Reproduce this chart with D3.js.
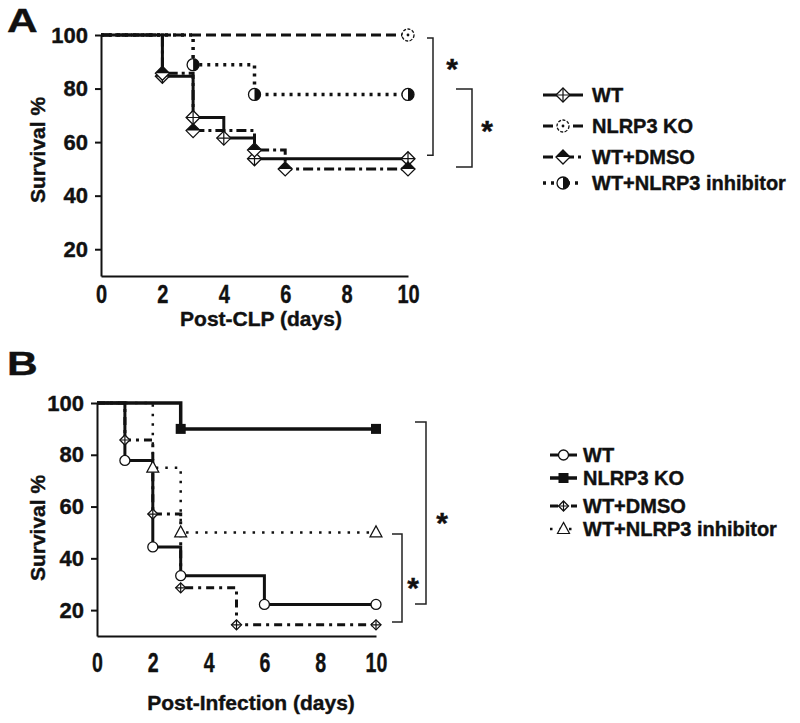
<!DOCTYPE html>
<html>
<head>
<meta charset="utf-8">
<script src="https://cdn.jsdelivr.net/npm/d3@7"></script>
<style>
  body { margin: 0; background: #fff; }
  text { font-family: "Liberation Sans", Arial, sans-serif; font-weight: bold; fill: #111; stroke: #111; stroke-width: 0.4px; }
</style>
</head>
<body>
<svg id="chart" width="800" height="723"></svg>
<script>
// ---- data ----
const groups = ['WT', 'NLRP3 KO', 'WT+DMSO', 'WT+NLRP3 inhibitor'];
const xTicks = [0, 2, 4, 6, 8, 10];
const yTicks = [20, 40, 60, 80, 100];

// Panel A: Post-CLP
const daysA_WT = [0, 2, 3, 4, 5, 10];
const survA_WT = [100, 84.6, 69.2, 61.5, 53.8, 53.8];
const daysA_KO = [0, 10];
const survA_KO = [100, 100];
const daysA_DMSO = [0, 2, 3, 5, 6, 10];
const survA_DMSO = [100, 85.7, 64.3, 57.1, 50, 50];
const daysA_INH = [0, 3, 5, 10];
const survA_INH = [100, 88.9, 77.8, 77.8];

// Panel B: Post-Infection
const daysB_WT = [0, 1, 2, 3, 6, 10];
const survB_WT = [100, 77.8, 44.4, 33.3, 22.2, 22.2];
const daysB_KO = [0, 3, 10];
const survB_KO = [100, 90, 90];
const daysB_DMSO = [0, 1, 2, 3, 5, 10];
const survB_DMSO = [100, 85.7, 57.1, 28.6, 14.3, 14.3];
const daysB_INH = [0, 2, 3, 10];
const survB_INH = [100, 75, 50, 50];

const svg = d3.select('#chart');

function marker(g, type, cx, cy, s) {
  const ink = '#111';
  if (type === 'diamondCross' || type === 'diamondHalf') {
    g.append('path')
      .attr('d', `M${cx},${cy - s}L${cx + s},${cy}L${cx},${cy + s}L${cx - s},${cy}Z`)
      .attr('fill', '#fff').attr('stroke', ink).attr('stroke-width', 1.3);
    if (type === 'diamondCross') {
      g.append('path')
        .attr('d', `M${cx - s},${cy}H${cx + s}M${cx},${cy - s}V${cy + s}`)
        .attr('stroke', ink).attr('stroke-width', 1.2);
    } else {
      g.append('path')
        .attr('d', `M${cx - s},${cy}L${cx},${cy - s}L${cx + s},${cy}Z`)
        .attr('fill', ink);
    }
  } else if (type === 'circleDot') {
    g.append('circle').attr('cx', cx).attr('cy', cy).attr('r', s)
      .attr('fill', '#fff').attr('stroke', ink).attr('stroke-width', 1.3)
      .attr('stroke-dasharray', '3,1.5');
    g.append('circle').attr('cx', cx).attr('cy', cy).attr('r', 1.4).attr('fill', ink);
  } else if (type === 'circleHalf') {
    g.append('circle').attr('cx', cx).attr('cy', cy).attr('r', s)
      .attr('fill', '#fff').attr('stroke', ink).attr('stroke-width', 1.3);
    g.append('path')
      .attr('d', `M${cx},${cy - s}A${s},${s} 0 0 1 ${cx},${cy + s}Z`)
      .attr('fill', ink);
  } else if (type === 'circle') {
    g.append('circle').attr('cx', cx).attr('cy', cy).attr('r', s)
      .attr('fill', '#fff').attr('stroke', ink).attr('stroke-width', 1.3);
  } else if (type === 'square') {
    g.append('rect').attr('x', cx - s).attr('y', cy - s)
      .attr('width', 2 * s).attr('height', 2 * s).attr('fill', ink);
  } else if (type === 'triangle') {
    g.append('path')
      .attr('d', `M${cx},${cy - s * 1.1}L${cx + s},${cy + s * 0.75}L${cx - s},${cy + s * 0.75}Z`)
      .attr('fill', '#fff').attr('stroke', ink).attr('stroke-width', 1.2);
  }
}

function drawPanel(p) {
  const g = svg.append('g');

  const x = d3.scaleLinear().domain([0, 10]).range(p.xRange);
  const y = d3.scaleLinear().domain([10, 100]).range(p.yRange);

  // axes
  const xAxis = g.append('g')
    .attr('transform', 'translate(0,' + p.yRange[0] + ')')
    .call(d3.axisBottom(x).tickValues(xTicks).tickSize(0).tickSizeOuter(0).tickPadding(p.xPad));
  xAxis.selectAll('text')
    .style('font-size', p.xFont + 'px')
    .attr('transform', 'scale(' + p.xScale + ',1)');

  const yAxis = g.append('g')
    .attr('transform', 'translate(' + p.xRange[0] + ',0)')
    .call(d3.axisLeft(y).tickValues(yTicks).tickSize(6).tickSizeOuter(0).tickPadding(7));
  yAxis.selectAll('text').style('font-size', '22px');

  g.selectAll('.domain, .tick line').attr('stroke', '#111').attr('stroke-width', 2);

  // survival curves
  const line = d3.line().curve(d3.curveStepAfter)
    .x(d => x(d[0])).y(d => y(d[1]));

  p.series.forEach(s => {
    const pts = s.days.map((d, i) => [d, s.surv[i]]);
    g.append('path')
      .datum(pts)
      .attr('fill', 'none')
      .attr('stroke', '#111')
      .attr('stroke-width', s.width)
      .attr('stroke-dasharray', s.dash)
      .attr('d', line);
  });
  p.series.forEach(s => {
    s.days.forEach((d, i) => {
      if (i === 0) return;
      marker(g, s.marker, x(d), y(s.surv[i]), s.size);
    });
  });

  // significance brackets
  p.brackets.forEach(b => {
    g.append('path')
      .attr('d', `M${b.x - b.arm},${y(b.from)}H${b.x}V${y(b.to)}H${b.x - b.arm}`)
      .attr('fill', 'none').attr('stroke', '#222').attr('stroke-width', 1.5);
    g.append('text')
      .attr('x', b.x + b.starDx)
      .attr('y', (y(b.from) + y(b.to)) / 2 + b.starDy)
      .attr('text-anchor', 'middle')
      .style('font-size', '30px')
      .text('*');
  });

  // legend
  p.series.forEach((s, i) => {
    const ly = p.legendY[i];
    g.append('line')
      .attr('x1', p.legendX).attr('x2', p.legendX + p.legendLen)
      .attr('y1', ly).attr('y2', ly)
      .attr('stroke', '#111').attr('stroke-width', s.width)
      .attr('stroke-dasharray', s.dash);
    marker(g, s.marker, p.legendX + p.legendLen / 2, ly, s.size);
    g.append('text')
      .attr('x', p.legendTextX).attr('y', ly + 7)
      .style('font-size', '20px')
      .text(groups[i]);
  });

  // axis titles and panel letter
  g.append('text')
    .attr('transform', 'translate(45,' + p.yTitleY + ') rotate(-90)')
    .attr('text-anchor', 'middle')
    .style('font-size', '21px')
    .text('Survival %');

  g.append('text')
    .attr('x', p.xTitleX).attr('y', p.xTitleY)
    .attr('text-anchor', 'middle')
    .style('font-size', '21px')
    .text(p.xTitle);

  g.append('text')
    .attr('transform', 'translate(7,' + p.letterY + ') scale(1.25,1)')
    .style('font-size', '34px')
    .style('font-family', 'Arial, "Liberation Sans", sans-serif')
    .text(p.letter);
}

drawPanel({
  letter: 'A', letterY: 32,
  xRange: [101, 408], yRange: [276, 35],
  xFont: 25, xScale: 0.8, xPad: 9,
  xTitle: 'Post-CLP (days)', xTitleX: 261, xTitleY: 326, yTitleY: 150,
  series: [
    { days: daysA_WT, surv: survA_WT, marker: 'diamondCross', size: 7, width: 3, dash: null },
    { days: daysA_KO, surv: survA_KO, marker: 'circleDot', size: 6, width: 3, dash: '10,5' },
    { days: daysA_DMSO, surv: survA_DMSO, marker: 'diamondHalf', size: 7, width: 3, dash: '10,4,3,4' },
    { days: daysA_INH, surv: survA_INH, marker: 'circleHalf', size: 6, width: 3.5, dash: '3,5' }
  ],
  brackets: [
    { from: 98.9, to: 55.1, x: 433, arm: 6, starDx: 19, starDy: -18 },
    { from: 79.8, to: 50.7, x: 472, arm: 16, starDx: 15, starDy: 13 }
  ],
  legendX: 543, legendLen: 40, legendTextX: 592, legendY: [95, 126, 157, 183]
});

drawPanel({
  letter: 'B', letterY: 375,
  xRange: [97, 376], yRange: [636, 403],
  xFont: 28, xScale: 0.7, xPad: 16,
  xTitle: 'Post-Infection (days)', xTitleX: 251, xTitleY: 710, yTitleY: 528,
  series: [
    { days: daysB_WT, surv: survB_WT, marker: 'circle', size: 5, width: 3, dash: null },
    { days: daysB_KO, surv: survB_KO, marker: 'square', size: 5, width: 3.5, dash: null },
    { days: daysB_DMSO, surv: survB_DMSO, marker: 'diamondCross', size: 5, width: 3, dash: '8,5,3,5' },
    { days: daysB_INH, surv: survB_INH, marker: 'triangle', size: 6, width: 2.5, dash: '2.5,7' }
  ],
  brackets: [
    { from: 92.7, to: 22.4, x: 426, arm: 11, starDx: 16, starDy: 20 },
    { from: 49.4, to: 15.4, x: 402, arm: 10, starDx: 11, starDy: 20 }
  ],
  legendX: 550, legendLen: 27, legendTextX: 583, legendY: [455, 478, 506, 529]
});
</script>
</body>
</html>
